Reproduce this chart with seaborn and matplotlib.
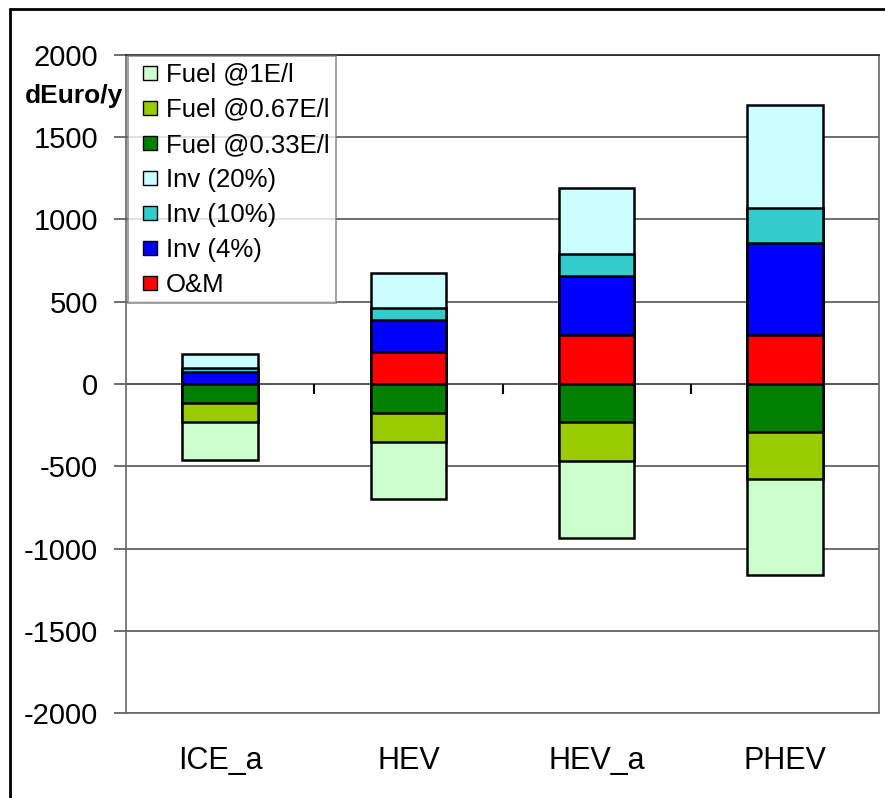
import numpy as np
import pandas as pd
import matplotlib
matplotlib.use('Agg')
import matplotlib.pyplot as plt
from matplotlib.lines import Line2D
import seaborn as sns

sns.set_style('white')
plt.rcParams['font.family'] = ['Liberation Sans', 'DejaVu Sans']
plt.rcParams['axes.unicode_minus'] = False
plt.rcParams['text.color'] = 'black'
plt.rcParams['xtick.color'] = 'black'
plt.rcParams['ytick.color'] = 'black'

# data (dEuro/y per segment)
vehicles = ['ICE_a', 'HEV', 'HEV_a', 'PHEV']
om = [0, 196, 296, 296]
inv4 = [71, 193, 359, 561]
inv10 = [28, 71, 137, 211]
inv20 = [83, 213, 401, 628]
fuel033 = [-115, -174, -233, -290]
fuel067 = [-116, -178, -235, -290]
fuel1 = [-231, -347, -470, -581]

labels = ['Fuel @1E/l', 'Fuel @0.67E/l', 'Fuel @0.33E/l',
          'Inv (20%)', 'Inv (10%)', 'Inv (4%)', 'O&M']
colors = {'Fuel @1E/l': '#CCFFCC', 'Fuel @0.67E/l': '#99CC00',
          'Fuel @0.33E/l': '#008000', 'Inv (20%)': '#CCFFFF',
          'Inv (10%)': '#33CCCC', 'Inv (4%)': '#0000FF', 'O&M': '#FF0000'}

# cumulative stacks: positive (O&M -> Inv) and negative (fuel)
pos = np.cumsum([om, inv4, inv10, inv20], axis=0)
neg = np.cumsum([fuel033, fuel067, fuel1], axis=0)
stacks = {'O&M': pos[0], 'Inv (4%)': pos[1], 'Inv (10%)': pos[2], 'Inv (20%)': pos[3],
          'Fuel @0.33E/l': neg[0], 'Fuel @0.67E/l': neg[1], 'Fuel @1E/l': neg[2]}

fig = plt.figure(figsize=(8.85, 7.98), dpi=100)
ax = fig.add_axes([0.1424, 0.1065, 0.8508, 0.8246])

# draw outer-most totals first, inner segments over them
draw_order = ['Inv (20%)', 'Inv (10%)', 'Inv (4%)', 'O&M',
              'Fuel @1E/l', 'Fuel @0.67E/l', 'Fuel @0.33E/l']
for name in draw_order:
    df = pd.DataFrame({'vehicle': vehicles, 'value': stacks[name]})
    sns.barplot(data=df, x='vehicle', y='value', color=colors[name],
                saturation=1, edgecolor='black', linewidth=1.8,
                width=0.4, ax=ax, errorbar=None)

ax.set_xlim(-0.5, 3.5)
ax.set_ylim(-2000, 2000)
ax.set_yticks(np.arange(-2000, 2001, 500))
ax.set_xlabel('')
ax.set_ylabel('')
ax.set_axisbelow(True)
ax.yaxis.grid(True, color='#555555', linewidth=1.2)
ax.axhline(0, color='#555555', linewidth=1.2, zorder=0.5)
ax.vlines([0.5, 1.5, 2.5], -60, 0, color='black', linewidth=1.5)

for s in ax.spines.values():
    s.set_color('#666666')
    s.set_linewidth(1.2)
ax.spines['top'].set_color('#222222')

ax.tick_params(axis='y', direction='out', length=9, width=1.2,
               color='#555555', labelsize=21, pad=11, left=True)
ax.tick_params(axis='x', length=0, labelsize=22, pad=24)

handles = [Line2D([], [], linestyle='none', marker='s', markersize=10,
                  markerfacecolor=colors[l], markeredgecolor='black',
                  markeredgewidth=1, label=l)
           for l in labels]
leg = ax.legend(handles=handles, loc='upper left', bbox_to_anchor=(0.003, 0.998),
                borderaxespad=0, fontsize=18.5, frameon=True, fancybox=False,
                handlelength=1.2, handletextpad=0.0, numpoints=1,
                labelspacing=0.43, borderpad=0.25)
leg.get_frame().set_edgecolor('#777777')
leg.get_frame().set_linewidth(1.2)

fig.text(123 / 885, 1 - 96 / 798, 'dEuro/y', ha='right', va='center',
         fontsize=19, fontweight='bold')

# outer frame (top and left edges visible)
fig.add_artist(Line2D([10 / 885, 1], [1 - 9 / 798, 1 - 9 / 798],
                      transform=fig.transFigure, color='black', linewidth=2))
fig.add_artist(Line2D([10 / 885, 10 / 885], [0, 1 - 9 / 798],
                      transform=fig.transFigure, color='black', linewidth=2))

fig.savefig('out.png', dpi=100)
